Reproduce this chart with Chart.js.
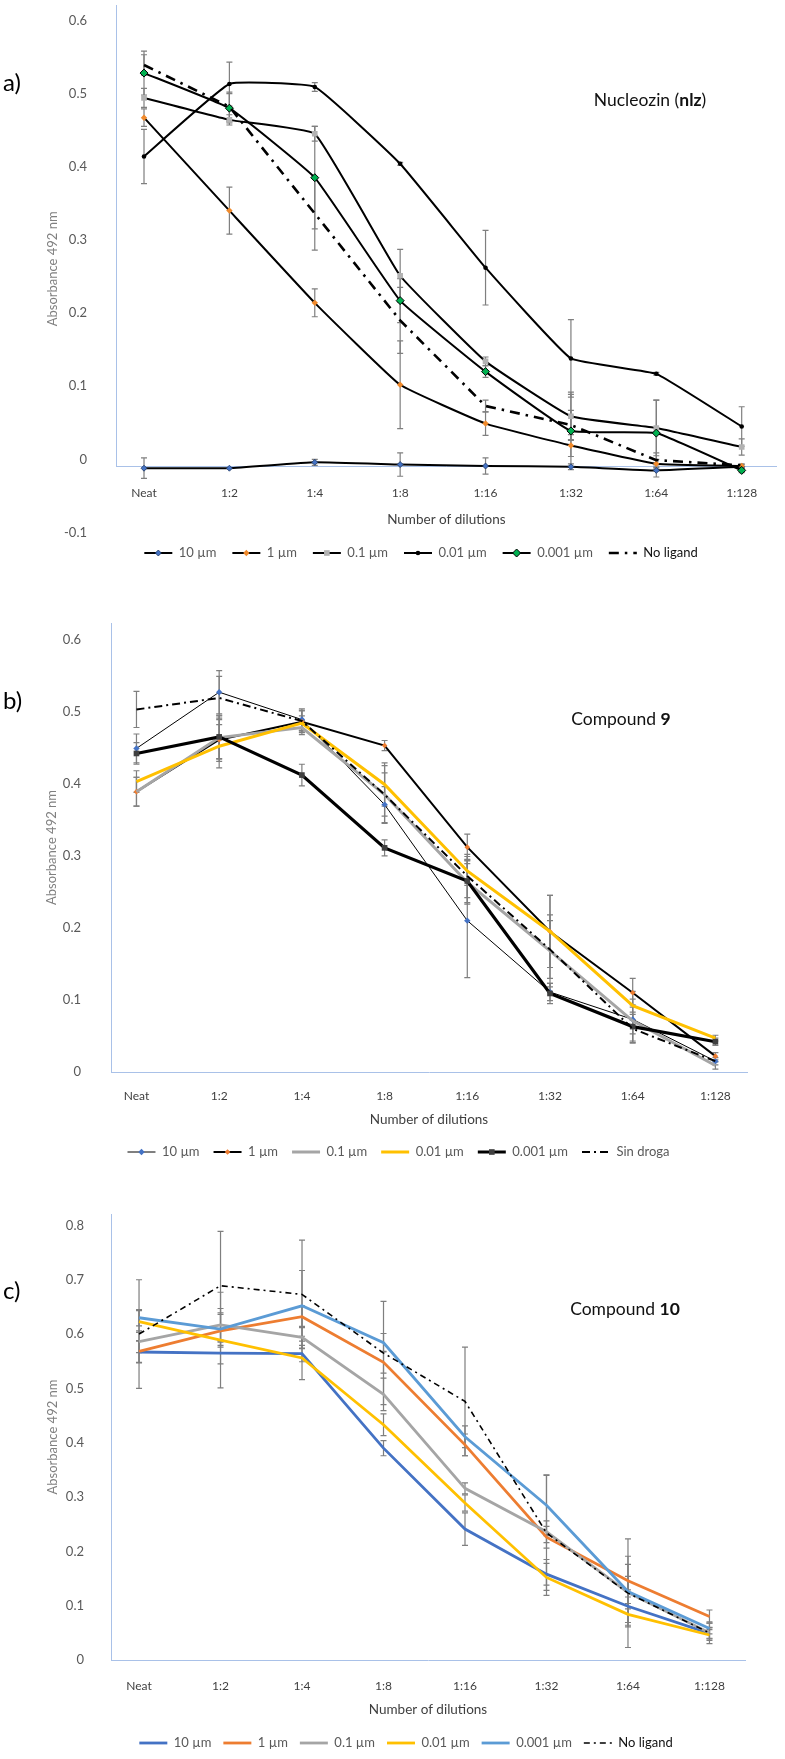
<!DOCTYPE html>
<html>
<head>
<meta charset="utf-8">
<title>Absorbance 492 nm vs number of dilutions</title>
<script src="https://cdn.jsdelivr.net/npm/chart.js@4.4.1/dist/chart.umd.min.js"></script>
<style>
    html, body { margin: 0; padding: 0; background: #ffffff; }
    #page { position: relative; width: 785px; height: 1759px; overflow: hidden; font-family: Lato, "Open Sans", sans-serif; }
    #page canvas { position: absolute; left: 0; }
    .tag { position: absolute; left: 3px; font-size: 24px; line-height: 28px; color: #000; }
    .inner-title { position: absolute; font-size: 17.5px; line-height: 22px; color: #111; white-space: nowrap; transform: translateX(-50%); }
</style>
</head>
<body>
<div id="page">
    <canvas id="chartA" width="785" height="580" style="top:0px"></canvas>
    <canvas id="chartB" width="785" height="570" style="top:600px"></canvas>
    <canvas id="chartC" width="785" height="569" style="top:1190px"></canvas>

    <div class="tag" style="top:68px">a)</div>
    <div class="inner-title" style="left:650px;top:89px">Nucleozin (<b>nlz</b>)</div>

    <div class="tag" style="top:686px">b)</div>
    <div class="inner-title" style="left:621px;top:708px">Compound <b>9</b></div>

    <div class="tag" style="top:1276px">c)</div>
    <div class="inner-title" style="left:625px;top:1298px">Compound <b>10</b></div>
</div>

<script>
"use strict";

/* =========================================================
   DATA
========================================================= */

const dilutionLabels = ["Neat", "1:2", "1:4", "1:8", "1:16", "1:32", "1:64", "1:128"];
const concLabels = ["10 µm", "1 µm", "0.1 µm", "0.01 µm", "0.001 µm"];

// a) Nucleozin (nlz)
const nlz10   = [-0.012, -0.012, -0.004, -0.007, -0.009, -0.010, -0.015, -0.010];
const nlz1    = [0.467, 0.340, 0.214, 0.102, 0.049, 0.019, -0.006, -0.009];
const nlz01   = [0.494, 0.464, 0.445, 0.251, 0.134, 0.059, 0.043, 0.017];
const nlz001  = [0.414, 0.513, 0.509, 0.404, 0.262, 0.138, 0.117, 0.045];
const nlz0001 = [0.528, 0.480, 0.385, 0.217, 0.120, 0.039, 0.036, -0.015];
const nlzNone = [0.539, 0.482, 0.336, 0.190, 0.073, 0.047, -0.001, -0.008];

const nlzErr10   = [0.014, 0, 0.004, 0.016, 0.011, 0.004, 0.009, 0.003];
const nlzErr1    = [0.012, 0.032, 0.019, 0.060, 0.016, 0.015, 0.006, 0.003];
const nlzErr01   = [0.013, 0.007, 0.010, 0.036, 0.006, 0.033, 0.038, 0.011];
const nlzErr001  = [0.037, 0.030, 0.006, 0.002, 0.051, 0.053, 0.002, 0.027];
const nlzErr0001 = [0.030, 0.020, 0.070, 0.030, 0.008, 0.050, 0.045, 0.003];
const nlzErrNone = [0.014, 0.020, 0.050, 0.045, 0.008, 0.020, 0.010, 0];

// b) Compound 9
const c9_10   = [0.449, 0.527, 0.489, 0.371, 0.210, 0.111, 0.073, 0.015];
const c9_1    = [0.389, 0.461, 0.486, 0.453, 0.312, 0.195, 0.110, 0.022];
const c9_01   = [0.389, 0.464, 0.478, 0.385, 0.263, 0.168, 0.071, 0.009];
const c9_001  = [0.403, 0.452, 0.484, 0.399, 0.279, 0.195, 0.092, 0.047];
const c9_0001 = [0.442, 0.465, 0.412, 0.311, 0.265, 0.109, 0.063, 0.042];
const c9None  = [0.503, 0.519, 0.487, 0.385, 0.272, 0.170, 0.060, 0.015];

const c9Err10   = [0.020, 0.030, 0.015, 0.025, 0.079, 0.012, 0.020, 0.005];
const c9Err1    = [0.020, 0.030, 0.015, 0.007, 0.018, 0.050, 0.020, 0.005];
const c9Err01   = [0.020, 0.030, 0.010, 0.040, 0.030, 0.050, 0.030, 0.005];
const c9Err001  = [0.015, 0.030, 0.010, 0.030, 0.020, 0.050, 0.020, 0.004];
const c9Err0001 = [0.015, 0.030, 0.015, 0.011, 0.030, 0.014, 0.020, 0.005];
const c9ErrNone = [0.025, 0.030, 0.015, 0.030, 0.030, 0.040, 0.020, 0];

// c) Compound 10
const c10_10   = [0.567, 0.565, 0.564, 0.390, 0.241, 0.158, 0.099, 0.049];
const c10_1    = [0.568, 0.606, 0.632, 0.548, 0.396, 0.226, 0.146, 0.080];
const c10_01   = [0.586, 0.617, 0.594, 0.489, 0.316, 0.236, 0.124, 0.050];
const c10_001  = [0.623, 0.589, 0.556, 0.433, 0.289, 0.152, 0.084, 0.046];
const c10_0001 = [0.630, 0.609, 0.652, 0.584, 0.411, 0.285, 0.126, 0.058];
const c10None  = [0.600, 0.689, 0.673, 0.565, 0.476, 0.234, 0.123, 0.050];

const c10Err10   = [0.020, 0.020, 0.015, 0.014, 0.030, 0.020, 0.030, 0.010];
const c10Err1    = [0.020, 0.030, 0.020, 0.020, 0.020, 0.020, 0.030, 0.012];
const c10Err01   = [0.020, 0.030, 0.020, 0.030, 0.010, 0.020, 0.030, 0.010];
const c10Err001  = [0.020, 0.088, 0.040, 0.020, 0.015, 0.033, 0.020, 0.010];
const c10Err0001 = [0.015, 0.030, 0.065, 0.017, 0.020, 0.056, 0.065, 0.010];
const c10ErrNone = [0.100, 0.100, 0.100, 0.095, 0.100, 0.106, 0.100, 0.020];

// y tick labels
const ticksA = [-0.1, 0, 0.1, 0.2, 0.3, 0.4, 0.5, 0.6];
const ticksB = [0, 0.1, 0.2, 0.3, 0.4, 0.5, 0.6];
const ticksC = [0, 0.1, 0.2, 0.3, 0.4, 0.5, 0.6, 0.7, 0.8];


/* =========================================================
   STYLE CONSTANTS
========================================================= */

const FONT = "Lato, 'Open Sans', sans-serif";
const AXIS_BLUE = "#A9C1E8";
const ERR_GRAY = "#7F7F7F";

const Y_TICK_SIZE = 13;
const Y_TITLE_SIZE = 13;
const X_TICK_SIZE = 12;
const X_TITLE_SIZE = 13.5;
const LEGEND_SIZE = 13;


/* =========================================================
   PLUGINS
========================================================= */

// gray error bars with caps, drawn under the lines
const errorBarPlugin = {
    id: "errorBars",
    beforeDatasetsDraw(chart, args, opts) {
        const errs = opts.errors || [];
        const ctx = chart.ctx;
        const xs = chart.scales.x;
        const ys = chart.scales.y;
        const cap = opts.cap;
        ctx.save();
        ctx.strokeStyle = opts.color;
        ctx.lineWidth = opts.width;
        chart.data.datasets.forEach((ds, i) => {
            const e = errs[i];
            if (!e) return;
            ds.data.forEach((pt, j) => {
                if (pt.y === null || !e[j]) return;
                const px = xs.getPixelForValue(pt.x);
                const top = ys.getPixelForValue(pt.y + e[j]);
                const bot = ys.getPixelForValue(pt.y - e[j]);
                ctx.beginPath();
                ctx.moveTo(px, top);
                ctx.lineTo(px, bot);
                ctx.moveTo(px - cap, top);
                ctx.lineTo(px + cap, top);
                ctx.moveTo(px - cap, bot);
                ctx.lineTo(px + cap, bot);
                ctx.stroke();
            });
        });
        ctx.restore();
    }
};

// vertical axis line, from the top down to where the x axis crosses
const axisLinePlugin = {
    id: "axisLine",
    beforeDatasetsDraw(chart, args, opts) {
        const ctx = chart.ctx;
        const area = chart.chartArea;
        const bottom = chart.scales.y.getPixelForValue(opts.crossAt);
        ctx.save();
        ctx.strokeStyle = opts.color;
        ctx.lineWidth = 1;
        ctx.beginPath();
        ctx.moveTo(area.left + 0.5, area.top);
        ctx.lineTo(area.left + 0.5, bottom);
        ctx.stroke();
        ctx.restore();
    }
};

// moves the legend row to a given centre and draws line + marker samples
const legendPlacePlugin = {
    id: "legendPlace",
    afterLayout(chart, args, opts) {
        const lg = chart.legend;
        if (!lg || !lg.lineWidths || !lg.legendHitBoxes.length) return;
        const pad = lg.options.labels.padding;
        const rowW = lg.lineWidths[0] - pad;
        const startX = (lg.left + pad + lg.right - lg.lineWidths[0]) / 2;
        const itemH = lg.legendHitBoxes[0].height;
        const dx = opts.cx - (startX + rowW / 2);
        const dy = opts.cy - (lg.top + pad + itemH / 2);
        lg.left += dx;
        lg.right += dx;
        lg.top += dy;
        lg.bottom += dy;
    },
    afterDraw(chart) {
        const lg = chart.legend;
        if (!lg || !lg.legendHitBoxes) return;
        const ctx = chart.ctx;
        const boxW = lg.options.labels.boxWidth;
        lg.legendHitBoxes.forEach((hb, i) => {
            const ds = chart.data.datasets[i];
            if (!ds) return;
            const y = hb.top + hb.height / 2;
            const x0 = hb.left;
            const x1 = hb.left + boxW;
            ctx.save();
            ctx.strokeStyle = ds.borderColor;
            ctx.lineWidth = Math.min(ds.borderWidth, 3);
            ctx.setLineDash(ds.borderDash || []);
            ctx.beginPath();
            ctx.moveTo(x0, y);
            ctx.lineTo(x1, y);
            ctx.stroke();
            ctx.setLineDash([]);
            if (ds.pointRadius > 0 && Chart.helpers && Chart.helpers.drawPoint) {
                ctx.fillStyle = ds.pointBackgroundColor;
                ctx.strokeStyle = ds.pointBorderColor || ds.pointBackgroundColor;
                ctx.lineWidth = ds.pointBorderWidth || 0;
                Chart.helpers.drawPoint(ctx, {
                    pointStyle: ds.pointStyle,
                    radius: ds.pointRadius,
                    rotation: 0,
                    borderWidth: ds.pointBorderWidth || 0
                }, (x0 + x1) / 2, y);
            }
            ctx.restore();
        });
    }
};


/* =========================================================
   HELPERS
========================================================= */

function toPoints(values) {
    return values.map((v, i) => ({ x: i, y: v }));
}

function lineSet(index, label, values, style) {
    return Object.assign({
        label: label,
        data: toPoints(values),
        order: -index,
        fill: false,
        tension: 0,
        borderColor: "#000000",
        borderWidth: 2,
        pointRadius: 0,
        pointHoverRadius: 0,
        pointBorderWidth: 0
    }, style);
}


/* =========================================================
   PANEL BUILDER
========================================================= */

function createPanel(canvasId, panel) {

    const canvas = document.getElementById(canvasId);
    if (!canvas) return;

    const area = panel.area;
    const H = canvas.height;

    const yTitleLH = Y_TITLE_SIZE * 1.2;
    const xTickLH = X_TICK_SIZE * 1.2;
    const xTitleLH = X_TITLE_SIZE * 1.2;

    const yScaleLeft = panel.yTitleX - yTitleLH / 2;
    const yWidth = area.left - yScaleLeft;
    const xTickPad = panel.xLabelGap - xTickLH / 2;
    const xHeight = panel.xTitleGap + xTitleLH / 2;

    const legendPad = panel.legend.padding;
    const legendH = Math.max(LEGEND_SIZE, 12) + legendPad + 10;
    const positioned = panel.crossAt !== null;
    const padBottom = positioned
        ? H - area.bottom - legendH
        : H - area.bottom - xHeight - legendH;

    new Chart(canvas, {
        type: "line",
        data: { datasets: panel.datasets },
        options: {
            responsive: false,
            animation: false,
            devicePixelRatio: 1,
            layout: {
                padding: {
                    left: yScaleLeft,
                    right: 785 - area.right,
                    top: area.top,
                    bottom: padBottom
                }
            },
            scales: {
                x: {
                    type: "linear",
                    min: panel.xMin,
                    max: panel.xMax,
                    position: positioned ? { y: panel.crossAt } : "bottom",
                    afterBuildTicks: (s) => {
                        s.ticks = dilutionLabels.map((_, i) => ({ value: i }));
                    },
                    afterFit: (s) => {
                        s.height = xHeight;
                        s.paddingLeft = 0;
                        s.paddingRight = 0;
                    },
                    grid: { display: false, drawTicks: false },
                    border: { display: true, color: AXIS_BLUE, width: 1 },
                    ticks: {
                        padding: xTickPad,
                        color: "#3F3F3F",
                        font: { family: FONT, size: X_TICK_SIZE },
                        maxRotation: 0,
                        autoSkip: false,
                        callback: (v) => dilutionLabels[v] !== undefined ? dilutionLabels[v] : ""
                    },
                    title: {
                        display: true,
                        text: "Number of dilutions",
                        color: "#3F3F3F",
                        font: { family: FONT, size: X_TITLE_SIZE },
                        padding: 0
                    }
                },
                y: {
                    min: panel.yMin,
                    max: panel.yMax,
                    afterBuildTicks: (s) => {
                        s.ticks = panel.yTicks.map((v) => ({ value: v }));
                    },
                    afterFit: (s) => {
                        s.width = yWidth;
                        s.paddingTop = 0;
                        s.paddingBottom = 0;
                    },
                    grid: { display: false, drawTicks: false },
                    border: { display: false },
                    ticks: {
                        padding: area.left - panel.yTickRight,
                        color: "#595959",
                        font: { family: FONT, size: Y_TICK_SIZE },
                        callback: (v) => String(+Number(v).toFixed(2))
                    },
                    title: {
                        display: true,
                        text: "Absorbance 492 nm",
                        color: "#808080",
                        font: { family: FONT, size: Y_TITLE_SIZE },
                        padding: 0
                    }
                }
            },
            plugins: {
                legend: {
                    position: "bottom",
                    labels: {
                        boxWidth: 28,
                        boxHeight: 12,
                        padding: legendPad,
                        font: { family: FONT, size: LEGEND_SIZE },
                        color: "#595959",
                        generateLabels: (chart) => chart.data.datasets.map((ds, i) => ({
                            text: ds.label,
                            datasetIndex: i,
                            fillStyle: "rgba(0,0,0,0)",
                            strokeStyle: "rgba(0,0,0,0)",
                            lineWidth: 0,
                            hidden: false,
                            fontColor: ds.legendTextColor || "#595959"
                        }))
                    }
                },
                tooltip: { enabled: false },
                errorBars: { errors: panel.errors, color: ERR_GRAY, width: 1.2, cap: 3 },
                axisLine: { crossAt: positioned ? panel.crossAt : panel.yMin, color: AXIS_BLUE },
                legendPlace: { cx: panel.legend.cx, cy: panel.legend.cy }
            }
        },
        plugins: [errorBarPlugin, axisLinePlugin, legendPlacePlugin]
    });

}


/* =========================================================
   PANELS
========================================================= */

function createPanelA() {
    createPanel("chartA", {
        area: { left: 116, right: 776.7, top: 2, bottom: 532.6 },
        yMin: -0.1, yMax: 0.621, yTicks: ticksA,
        xMin: -0.328, xMax: 7.41,
        crossAt: -0.0095,
        yTitleX: 53, yTickRight: 87,
        xLabelGap: 27, xTitleGap: 53,
        legend: { cx: 421, cy: 553, padding: 16 },
        datasets: [
            lineSet(0, concLabels[0], nlz10, { tension: 0.1, pointStyle: "rectRot", pointRadius: 3, pointBackgroundColor: "#4472C4", pointBorderColor: "#1F3864", pointBorderWidth: 0.8 }),
            lineSet(1, concLabels[1], nlz1, { tension: 0.1, pointStyle: "rectRot", pointRadius: 3.2, pointBackgroundColor: "#F08A2C" }),
            lineSet(2, concLabels[2], nlz01, { tension: 0.1, pointStyle: "rect", pointRadius: 4, pointBackgroundColor: "#B2B2B2" }),
            lineSet(3, concLabels[3], nlz001, { tension: 0.1, pointStyle: "circle", pointRadius: 2.3, pointBackgroundColor: "#000000" }),
            lineSet(4, concLabels[4], nlz0001, { tension: 0.1, pointStyle: "rectRot", pointRadius: 4, pointBackgroundColor: "#00B050", pointBorderColor: "#000000", pointBorderWidth: 1 }),
            lineSet(5, "No ligand", nlzNone, { borderWidth: 2.6, borderDash: [10, 6, 2.5, 6], legendTextColor: "#111111" })
        ],
        errors: [nlzErr10, nlzErr1, nlzErr01, nlzErr001, nlzErr0001, nlzErrNone]
    });
}

function createPanelB() {
    createPanel("chartB", {
        area: { left: 111, right: 747, top: 23, bottom: 472 },
        yMin: 0, yMax: 0.623, yTicks: ticksB,
        xMin: -0.308, xMax: 7.382,
        crossAt: null,
        yTitleX: 52, yTickRight: 81,
        xLabelGap: 24, xTitleGap: 48,
        legend: { cx: 398.5, cy: 552, padding: 14 },
        datasets: [
            lineSet(0, concLabels[0], c9_10, { borderWidth: 1, pointStyle: "rectRot", pointRadius: 3.2, pointBackgroundColor: "#4472C4" }),
            lineSet(1, concLabels[1], c9_1, { borderWidth: 2, pointStyle: "rectRot", pointRadius: 2.8, pointBackgroundColor: "#ED7D31" }),
            lineSet(2, concLabels[2], c9_01, { borderColor: "#A5A5A5", borderWidth: 3 }),
            lineSet(3, concLabels[3], c9_001, { borderColor: "#FFC000", borderWidth: 3 }),
            lineSet(4, concLabels[4], c9_0001, { borderWidth: 3.2, pointStyle: "rect", pointRadius: 4, pointBackgroundColor: "#404040" }),
            lineSet(5, "Sin droga", c9None, { borderWidth: 2, borderDash: [8, 4, 2, 4] })
        ],
        errors: [c9Err10, c9Err1, c9Err01, c9Err001, c9Err0001, c9ErrNone]
    });
}

function createPanelC() {
    createPanel("chartC", {
        area: { left: 111, right: 745, top: 24, bottom: 470 },
        yMin: 0, yMax: 0.821, yTicks: ticksC,
        xMin: -0.344, xMax: 7.436,
        crossAt: null,
        yTitleX: 53, yTickRight: 84,
        xLabelGap: 26, xTitleGap: 50,
        legend: { cx: 406, cy: 553, padding: 12 },
        datasets: [
            lineSet(0, concLabels[0], c10_10, { borderColor: "#4472C4", borderWidth: 2.8 }),
            lineSet(1, concLabels[1], c10_1, { borderColor: "#ED7D31", borderWidth: 2.8 }),
            lineSet(2, concLabels[2], c10_01, { borderColor: "#A5A5A5", borderWidth: 2.8 }),
            lineSet(3, concLabels[3], c10_001, { borderColor: "#FFC000", borderWidth: 2.8 }),
            lineSet(4, concLabels[4], c10_0001, { borderColor: "#5B9BD5", borderWidth: 2.8 }),
            lineSet(5, "No ligand", c10None, { borderWidth: 1.6, borderDash: [6, 4, 2, 4], legendTextColor: "#111111" })
        ],
        errors: [c10Err10, c10Err1, c10Err01, c10Err001, c10Err0001, c10ErrNone]
    });
}


document.addEventListener("DOMContentLoaded", () => {
    if (typeof Chart === "undefined") {
        console.warn("Chart.js library not loaded.");
        return;
    }
    createPanelA();
    createPanelB();
    createPanelC();
});
</script>
</body>
</html>
